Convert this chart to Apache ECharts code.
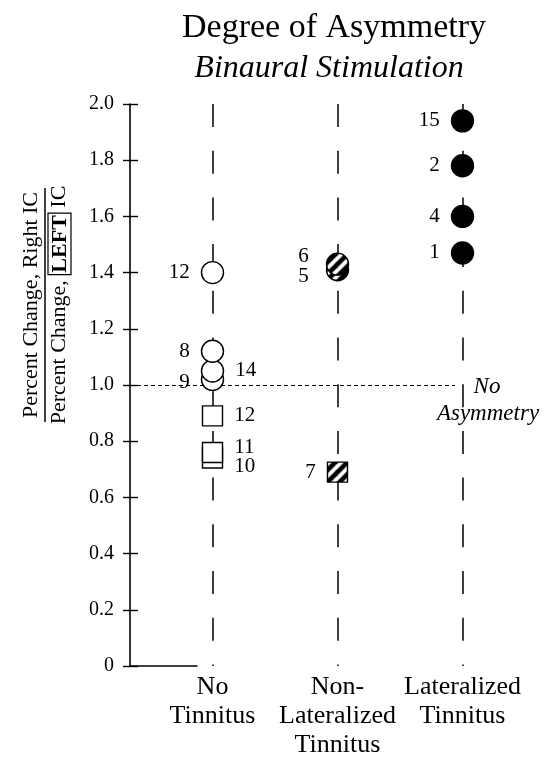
<!DOCTYPE html>
<html>
<head>
<meta charset="utf-8">
<script src="https://cdn.jsdelivr.net/npm/echarts@6/dist/echarts.min.js"></script>
<style>html,body{margin:0;padding:0;background:#fff;}#c{width:551px;height:760px;}</style>
</head>
<body>
<div id="c"></div>
<script>
// ---- data ----
const categories = ['No\nTinnitus', 'Non-\nLateralized\nTinnitus', 'Lateralized\nTinnitus'];
const noTinCircleIds = ['12', '9', '14', '8'];
const noTinCircleVals = [1.40, 1.02, 1.05, 1.12];
const noTinSquareIds = ['12', '10', '11'];
const noTinSquareVals = [0.89, 0.74, 0.76];
const nonLatCircleIds = ['5', '6'];
const nonLatCircleVals = [1.41, 1.43];
const nonLatSquareIds = ['7'];
const nonLatSquareVals = [0.69];
const latCircleIds = ['15', '2', '4', '1'];
const latCircleVals = [1.94, 1.78, 1.60, 1.47];
const asymmetryLevel = 1.0;
const yMin = 0, yMax = 2.0, yStep = 0.2;

// ---- styles ----
const SERIF = '"Liberation Serif", "DejaVu Serif", serif';
const chart = echarts.init(document.getElementById('c'), null, {renderer: 'canvas'});
const CIRCLE_SIZE = 22, SQUARE_SIZE = 20;

function hatch(symbolSize) {
  const s = 12;
  const c = document.createElement('canvas');
  c.width = s; c.height = s;
  const g = c.getContext('2d');
  g.fillStyle = '#fff'; g.fillRect(0, 0, s, s);
  g.strokeStyle = '#000'; g.lineWidth = 4.6; g.lineCap = 'square';
  [-s, 0, s].forEach(dx => {
    g.beginPath(); g.moveTo(dx, s); g.lineTo(dx + s, 0); g.stroke();
  });
  // symbols are drawn as unit paths scaled by size/2, so counter-scale the pattern
  const k = 2 / symbolSize;
  return {image: c, repeat: 'repeat', scaleX: k, scaleY: k};
}

// label placement per series (style only)
const labelStyles = {
  noTinCircle: {'14': {position: 'right', offset: [0, 0]}, '9': {offset: [0, 3]}},
  noTinSquare: {'12': {position: 'right'}, '11': {position: 'right', offset: [0, -5]}, '10': {position: 'right', offset: [0, 8]}},
  nonLatCircle: {'6': {offset: [-6, -8]}, '5': {offset: [-6, 7]}},
  nonLatSquare: {},
  latCircle: {}
};

function scatter(key, col, ids, vals, symbol, fill) {
  const ls = labelStyles[key];
  const size = symbol === 'rect' ? SQUARE_SIZE : CIRCLE_SIZE;
  return {
    type: 'scatter', name: key, z: 5,
    symbol: symbol, symbolSize: size,
    itemStyle: {color: fill === 'hatch' ? hatch(size) : fill, borderColor: '#000', borderWidth: 1.4, opacity: 1},
    label: {show: true, position: 'left', distance: 11, fontFamily: SERIF, fontSize: 21, color: '#000',
      formatter: p => ids[p.dataIndex]},
    emphasis: {disabled: true},
    data: vals.map((v, i) => {
      const o = {value: [col, v]};
      if (ls[ids[i]]) o.label = ls[ids[i]];
      return o;
    })
  };
}

const dashV = [23, 23.7];
const option = {
  animation: false,
  backgroundColor: '#fff',
  title: [
    {text: 'Degree of Asymmetry', left: 329, top: 6, textAlign: 'center',
     textStyle: {fontFamily: SERIF, fontSize: 34, fontWeight: 'normal', color: '#000'}},
    {text: 'Binaural Stimulation', left: 324, top: 48, textAlign: 'center',
     textStyle: {fontFamily: SERIF, fontSize: 32, fontWeight: 'normal', fontStyle: 'italic', color: '#000'}}
  ],
  grid: {left: 130, right: 26, top: 104, bottom: 90, containLabel: false},
  xAxis: {
    type: 'value', min: 0.34, max: 3.5,
    axisLine: {show: false}, axisTick: {show: false}, splitLine: {show: false},
    axisLabel: {customValues: [1, 2, 3], formatter: v => categories[Math.round(v) - 1] || '',
      fontFamily: SERIF, fontSize: 26, lineHeight: 29, color: '#000', margin: 7, align: 'center'}
  },
  yAxis: [
    {type: 'value', min: yMin, max: yMax, interval: yStep, position: 'left',
     axisLine: {show: true, lineStyle: {color: '#000', width: 1.6}},
     axisTick: {show: true, inside: false, length: 7, lineStyle: {color: '#000', width: 1.4}},
     axisLabel: {fontFamily: SERIF, fontSize: 20, color: '#000', margin: 16,
       formatter: v => (v === 0 ? '0' : v.toFixed(1))},
     splitLine: {show: false}},
    {type: 'value', min: yMin, max: yMax, interval: yStep, position: 'left', offset: 0,
     axisLine: {show: false},
     axisTick: {show: true, inside: true, length: 8, lineStyle: {color: '#000', width: 1.4}},
     axisLabel: {show: false}, splitLine: {show: false}}
  ],
  series: [
    {
      type: 'scatter', name: 'guides', z: 1, data: [], silent: true,
      markLine: {
        silent: true, symbol: 'none', animation: false,
        label: {show: false},
        emphasis: {disabled: true},
        data: [
          [{coord: [1, yMax], lineStyle: {type: dashV, width: 1.5, color: '#000'}}, {coord: [1, yMin]}],
          [{coord: [2, yMax], lineStyle: {type: dashV, width: 1.5, color: '#000'}}, {coord: [2, yMin]}],
          [{coord: [3, yMax], lineStyle: {type: dashV, width: 1.5, color: '#000'}}, {coord: [3, yMin]}],
          [{coord: [0.34, asymmetryLevel], lineStyle: {type: [4, 3], width: 1.2, color: '#000'}}, {coord: [2.94, asymmetryLevel]}],
          [{coord: [0.34, yMin], lineStyle: {type: 'solid', width: 1.6, color: '#000'}}, {coord: [0.88, yMin]}]
        ]
      }
    },
    scatter('noTinCircle', 1, noTinCircleIds, noTinCircleVals, 'circle', '#fff'),
    scatter('noTinSquare', 1, noTinSquareIds, noTinSquareVals, 'rect', '#fff'),
    scatter('nonLatCircle', 2, nonLatCircleIds, nonLatCircleVals, 'circle', 'hatch'),
    scatter('nonLatSquare', 2, nonLatSquareIds, nonLatSquareVals, 'rect', 'hatch'),
    scatter('latCircle', 3, latCircleIds, latCircleVals, 'circle', '#000')
  ],
  graphic: [
    {
      type: 'group', x: 45, y: 305, rotation: Math.PI / 2,
      children: [
        {type: 'text', style: {text: 'Percent Change, Right IC', x: 0, y: -3, align: 'center', verticalAlign: 'bottom',
          fontFamily: SERIF, fontSize: 22, fill: '#000'}},
        {type: 'line', shape: {x1: -117, y1: 0, x2: 117, y2: 0}, style: {stroke: '#000', lineWidth: 1.5}},
        {type: 'text', style: {text: '{n|Percent Change, }{b|LEFT}{n| IC}', x: 0, y: 3, align: 'center', verticalAlign: 'top',
          rich: {
            n: {fontFamily: SERIF, fontSize: 22, fill: '#000', color: '#000'},
            b: {fontFamily: SERIF, fontSize: 22, fontWeight: 'bold', fill: '#000', color: '#000',
                borderColor: '#000', borderWidth: 1.2, padding: [1, 2, 0, 2]}
          }}}
      ]
    },
    {type: 'text', x: 487, y: 387, style: {text: 'No', align: 'center', verticalAlign: 'middle',
      fontFamily: SERIF, fontSize: 23, fontStyle: 'italic', fill: '#000'}},
    {type: 'text', x: 488, y: 414, style: {text: 'Asymmetry', align: 'center', verticalAlign: 'middle',
      fontFamily: SERIF, fontSize: 23, fontStyle: 'italic', fill: '#000'}}
  ]
};
chart.setOption(option);
</script>
</body>
</html>
